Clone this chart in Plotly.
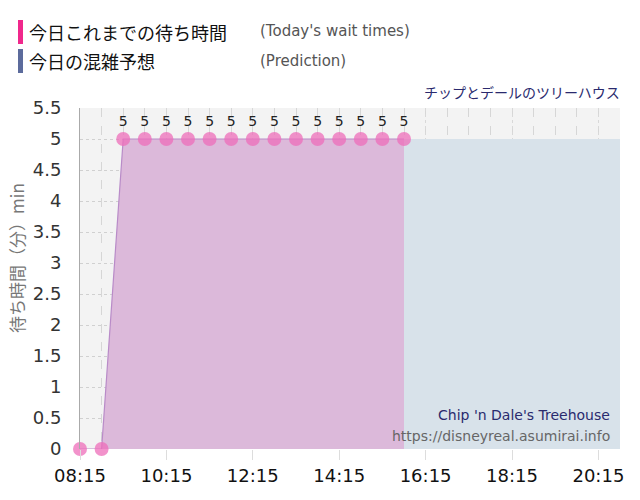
import plotly.graph_objects as go

DAY = "2024-01-01 "
actual_times = ["08:15", "08:45", "09:15", "09:45", "10:15", "10:45", "11:15", "11:45",
                "12:15", "12:45", "13:15", "13:45", "14:15", "14:45", "15:15", "15:45"]
actual_wait = [0, 0, 5, 5, 5, 5, 5, 5, 5, 5, 5, 5, 5, 5, 5, 5]
pred_times = ["15:45", "20:45"]
pred_wait = [5, 5]
tick_labels = ["08:15", "10:15", "12:15", "14:15", "16:15", "18:15", "20:15"]
y_ticks = [0, 0.5, 1, 1.5, 2, 2.5, 3, 3.5, 4, 4.5, 5, 5.5]

JP = "Noto Sans CJK JP, DejaVu Sans, sans-serif"
LAT = "DejaVu Sans, Verdana, sans-serif"

xa = [DAY + t for t in actual_times]
xp = [DAY + t for t in pred_times]

fig = go.Figure()
fig.add_trace(go.Scatter(
    x=xp, y=pred_wait, mode="lines", line=dict(width=0, color="#d8e2ea"),
    fill="tozeroy", fillcolor="#d8e2ea", hoverinfo="skip", showlegend=False))
fig.add_trace(go.Scatter(
    x=xa, y=actual_wait, mode="lines", line=dict(width=1.2, color="#b98bc8"),
    fill="tozeroy", fillcolor="#dcb9da", hoverinfo="skip", showlegend=False))
fig.add_trace(go.Scatter(
    x=xa, y=actual_wait, mode="markers+text", cliponaxis=False,
    marker=dict(size=14, color="rgba(238,110,185,0.75)"),
    text=[str(v) if v > 0 else "" for v in actual_wait],
    textposition="top center", textfont=dict(size=14, color="#222", family=LAT),
    showlegend=False))

fig.update_layout(
    width=640, height=500,
    margin=dict(l=80, r=20, t=108, b=51),
    paper_bgcolor="white", plot_bgcolor="#f3f3f3",
    font=dict(family=LAT),
    xaxis=dict(
        type="date", automargin=False,
        range=[DAY + "08:15", DAY + "20:45"],
        tickvals=[DAY + t for t in tick_labels], ticktext=tick_labels,
        tickfont=dict(size=18, color="#111", family=LAT),
        ticks="outside", ticklen=10, tickcolor="#dddddd",
        showgrid=True, gridcolor="#d8d8d8", griddash="dot",
        minor=dict(dtick=30 * 60 * 1000, tick0=DAY + "08:15", showgrid=True,
                   gridcolor="#d6d6d6", griddash="dash", ticks=""),
        zeroline=False, showline=False,
    ),
    yaxis=dict(
        automargin=False,
        range=[0, 5.5], tickvals=y_ticks,
        ticktext=[("%g" % v) for v in y_ticks],
        tickfont=dict(size=18, color="#333", family=LAT),
        showgrid=True, gridcolor="#d0d0d0", griddash="dot",
        zeroline=False, showline=True, linecolor="#aaaaaa", linewidth=1,
        ticks="outside", ticklen=14, tickcolor="rgba(0,0,0,0)",
    ),
)

def px_x(p):
    return (p - 80) / 540

def px_y(p):
    return (449 - p) / 341

fig.add_shape(type="rect", xref="paper", yref="paper", x0=px_x(18), x1=px_x(23),
              y0=px_y(44), y1=px_y(20), fillcolor="#f0288c", line=dict(width=0))
fig.add_shape(type="rect", xref="paper", yref="paper", x0=px_x(18), x1=px_x(23),
              y0=px_y(73), y1=px_y(49), fillcolor="#5c6b9c", line=dict(width=0))

fig.add_annotation(x=px_x(16), y=px_y(258), xref="paper", yref="paper", xanchor="center",
                   yanchor="middle", showarrow=False, text="待ち時間（分）min", textangle=-90,
                   font=dict(size=17, color="#777", family=JP))
fig.add_annotation(x=px_x(27), y=px_y(32), xref="paper", yref="paper", xanchor="left",
                   yanchor="middle", showarrow=False, text="今日これまでの待ち時間",
                   font=dict(size=18, color="#111", family=JP))
fig.add_annotation(x=px_x(27), y=px_y(61), xref="paper", yref="paper", xanchor="left",
                   yanchor="middle", showarrow=False, text="今日の混雑予想",
                   font=dict(size=18, color="#111", family=JP))
fig.add_annotation(x=px_x(258), y=px_y(31), xref="paper", yref="paper", xanchor="left",
                   yanchor="middle", showarrow=False, text="(Today's wait times)",
                   font=dict(size=15, color="#555", family=LAT))
fig.add_annotation(x=px_x(258), y=px_y(61), xref="paper", yref="paper", xanchor="left",
                   yanchor="middle", showarrow=False, text="(Prediction)",
                   font=dict(size=15, color="#555", family=LAT))
fig.add_annotation(x=px_x(622), y=px_y(92), xref="paper", yref="paper", xanchor="right",
                   yanchor="middle", showarrow=False, text="チップとデールのツリーハウス",
                   font=dict(size=14, color="#2a2a6e", family=JP))
fig.add_annotation(x=px_x(612), y=px_y(415), xref="paper", yref="paper", xanchor="right",
                   yanchor="middle", showarrow=False, text="Chip 'n Dale's Treehouse",
                   font=dict(size=14, color="#2a2a6e", family=LAT))
fig.add_annotation(x=px_x(612), y=px_y(436), xref="paper", yref="paper", xanchor="right",
                   yanchor="middle", showarrow=False, text="https://disneyreal.asumirai.info",
                   font=dict(size=14, color="#666", family=LAT))

fig.write_html("out.html", config={"displayModeBar": False},
               post_script="document.body.style.margin='0';")
